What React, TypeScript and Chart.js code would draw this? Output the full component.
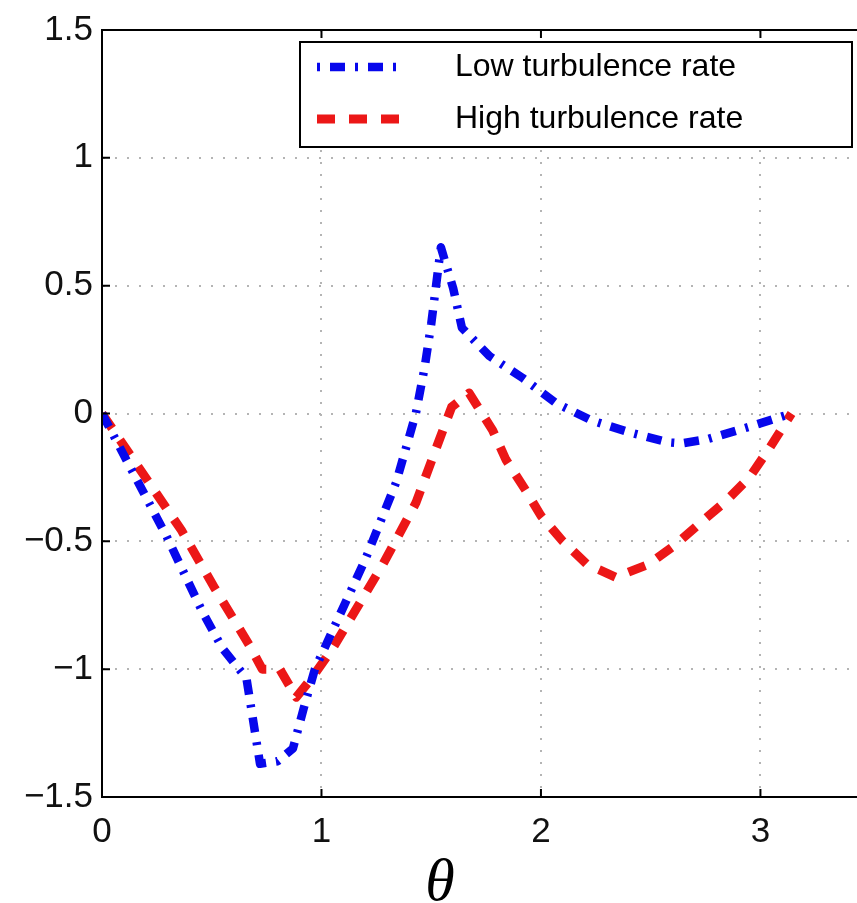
import React, { useEffect, useRef } from "react";
import { Chart, registerables } from "chart.js";

Chart.register(...registerables);

// ---- data ----
const seriesLabels = ["Low turbulence rate", "High turbulence rate"];

const lowTheta = [0, 0.294, 0.46, 0.55, 0.658, 0.72, 0.8, 0.87, 0.92, 0.97, 1.05, 1.2, 1.34, 1.43, 1.47, 1.5, 1.544, 1.6, 1.64, 1.765, 1.915, 2.07, 2.23, 2.4, 2.58, 2.64, 2.76, 2.945, 3.1416];
const lowValue = [0, -0.48, -0.78, -0.92, -1.035, -1.37, -1.36, -1.31, -1.15, -1.0, -0.85, -0.57, -0.27, 0, 0.18, 0.35, 0.65, 0.49, 0.335, 0.225, 0.14, 0.04, -0.027, -0.073, -0.113, -0.117, -0.1, -0.053, 0];

const highTheta = [0, 0.362, 0.515, 0.674, 0.73, 0.81, 0.885, 0.96, 1.05, 1.28, 1.43, 1.536, 1.593, 1.673, 1.78, 1.84, 1.93, 2.0, 2.1, 2.21, 2.34, 2.49, 2.61, 2.73, 2.84, 2.95, 3.04, 3.1416];
const highValue = [0, -0.457, -0.685, -0.91, -1.0, -1.0, -1.11, -1.03, -0.92, -0.59, -0.35, -0.105, 0.025, 0.08, -0.066, -0.18, -0.3, -0.4, -0.5, -0.59, -0.64, -0.59, -0.515, -0.425, -0.345, -0.25, -0.137, 0];

const xTicks = [0, 1, 2, 3];
const yTicks = [-1.5, -1, -0.5, 0, 0.5, 1, 1.5];
const xAxisTitle = "θ";

const W = 857;
const H = 903;

const fmt = (v: number) => (v < 0 ? "\u2212" + String(Math.abs(v)) : String(v));

const framePlugin = {
  id: "frame",
  afterDatasetsDraw(chart: any) {
    const { ctx, chartArea: a, scales } = chart;
    ctx.save();
    ctx.strokeStyle = "#000";
    ctx.lineWidth = 2;
    ctx.beginPath();
    ctx.moveTo(a.left, a.top);
    ctx.lineTo(a.right, a.top);
    ctx.moveTo(a.left, a.top);
    ctx.lineTo(a.left, a.bottom);
    ctx.lineTo(a.right, a.bottom);
    ctx.stroke();
    const tl = 8;
    ctx.beginPath();
    xTicks.forEach((v) => {
      const px = scales.x.getPixelForValue(v);
      ctx.moveTo(px, a.bottom);
      ctx.lineTo(px, a.bottom - tl);
      ctx.moveTo(px, a.top);
      ctx.lineTo(px, a.top + tl);
    });
    yTicks.forEach((v) => {
      const py = scales.y.getPixelForValue(v);
      ctx.moveTo(a.left, py);
      ctx.lineTo(a.left + tl, py);
    });
    ctx.stroke();
    ctx.restore();
  },
  afterDraw(chart: any) {
    const { ctx, chartArea: a } = chart;
    ctx.save();
    // axis title
    ctx.fillStyle = "#000";
    ctx.font = "italic 60px 'Liberation Serif'";
    ctx.textAlign = "center";
    ctx.textBaseline = "alphabetic";
    ctx.fillText(xAxisTitle, a.left + 338, 900);

    // legend box
    const bx = 300, by = 42, bw = 552, bh = 105;
    ctx.fillStyle = "#fff";
    ctx.fillRect(bx, by, bw, bh);
    ctx.strokeStyle = "#000";
    ctx.lineWidth = 2;
    ctx.strokeRect(bx, by, bw, bh);
    const rows = [67, 119];
    chart.data.datasets.forEach((ds: any, i: number) => {
      const y = rows[i];
      ctx.save();
      ctx.strokeStyle = ds.borderColor;
      ctx.lineWidth = ds.borderWidth;
      ctx.setLineDash(ds.borderDash || []);
      ctx.lineDashOffset = i === 0 ? 25 : 0;
      ctx.beginPath();
      ctx.moveTo(317, y);
      ctx.lineTo(404, y);
      ctx.stroke();
      ctx.restore();
      ctx.fillStyle = "#000";
      ctx.font = "32px 'Liberation Sans'";
      ctx.textAlign = "left";
      ctx.textBaseline = "middle";
      ctx.fillText(ds.label, 455, y);
    });
    ctx.restore();
  },
};

export default function App() {
  const ref = useRef<HTMLCanvasElement | null>(null);

  useEffect(() => {
    if (!ref.current) return;
    const chart = new Chart(ref.current, {
      type: "scatter",
      data: {
        datasets: [
          {
            label: seriesLabels[0],
            data: lowTheta.map((t, i) => ({ x: t, y: lowValue[i] })),
            showLine: true,
            borderColor: "#0707ec",
            backgroundColor: "#0707ec",
            borderWidth: 8.5,
            borderDash: [15, 10, 3, 10],
            borderJoinStyle: "round",
            pointRadius: 0,
            tension: 0,
          },
          {
            label: seriesLabels[1],
            data: highTheta.map((t, i) => ({ x: t, y: highValue[i] })),
            showLine: true,
            borderColor: "#ec1717",
            backgroundColor: "#ec1717",
            borderWidth: 9,
            borderDash: [18, 14],
            borderJoinStyle: "round",
            pointRadius: 0,
            tension: 0,
          },
        ],
      },
      options: {
        responsive: false,
        animation: false,
        layout: { padding: { top: 29, right: 0, left: 0, bottom: 0 } },
        plugins: {
          legend: { display: false },
          tooltip: { enabled: false },
        },
        scales: {
          x: {
            type: "linear",
            min: 0,
            max: 3.44,
            afterBuildTicks: (s: any) => {
              s.ticks = xTicks.map((v) => ({ value: v }));
            },
            afterFit: (s: any) => {
              s.height = H - 797;
            },
            grid: {
              color: (c: any) => (c.tick && c.tick.value === 0 ? "rgba(0,0,0,0)" : "#b4b4b4"),
              lineWidth: 2,
              drawTicks: false,
            },
            border: { display: true, color: "#000", width: 2, dash: [2, 10] },
            ticks: {
              padding: 14,
              color: "#111",
              font: { family: "'Liberation Sans'", size: 35 },
              callback: (v: any) => fmt(Number(v)),
              maxRotation: 0,
            },
          },
          y: {
            type: "linear",
            min: -1.5,
            max: 1.5,
            afterBuildTicks: (s: any) => {
              s.ticks = yTicks.map((v) => ({ value: v }));
            },
            afterFit: (s: any) => {
              s.width = 102;
            },
            grid: {
              color: (c: any) =>
                c.tick && Math.abs(c.tick.value) === 1.5 ? "rgba(0,0,0,0)" : "#b4b4b4",
              lineWidth: 2,
              drawTicks: false,
            },
            border: { display: true, color: "#000", width: 2, dash: [2, 10] },
            ticks: {
              padding: 9,
              color: "#111",
              font: { family: "'Liberation Sans'", size: 35 },
              callback: (v: any) => fmt(Number(v)),
            },
          },
        },
      },
      plugins: [framePlugin],
    });
    return () => chart.destroy();
  }, []);

  return (
    <div style={{ position: "absolute", left: 0, top: 0, width: W, height: H, background: "#fff" }}>
      <canvas ref={ref} width={W} height={H} style={{ display: "block" }} />
    </div>
  );
}
